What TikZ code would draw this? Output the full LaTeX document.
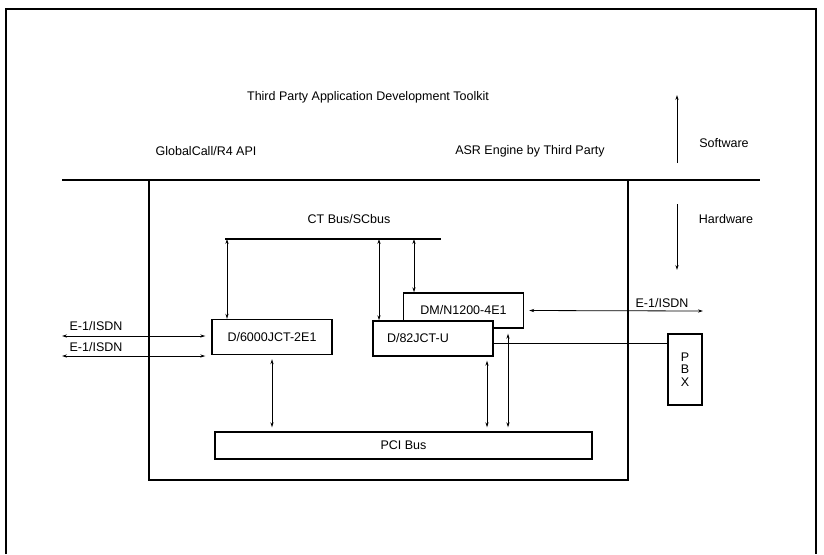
\documentclass[tikz,border=0pt]{standalone}
\usepackage{fontspec}
\setmainfont{Liberation Sans}
\usepackage{xcolor}
\usetikzlibrary{arrows.meta}

\begin{document}
\begin{tikzpicture}[
x=1pt, y=-1pt,
font=\fontsize{12.5}{14}\selectfont,
>={Stealth[length=5pt,width=3.2pt]},
karte/.style={draw, line width=1.4pt, fill=white, inner sep=0pt, minimum height=35pt, minimum width=120pt},
bus/.style={karte, minimum height=27pt, minimum width=377pt},
pfeil/.style={<->, line width=0.8pt},
]
\useasboundingbox (0,0) rectangle (824,554);

\draw[line width=1.6pt] (6,554) -- (6,9) -- (816,9) -- (816,554);

\node (toolkit) at (368,97){Third Party Application Development Toolkit};
\node (gcapi) at (206,151){GlobalCall/R4 API};
\node (asr) at (530,151){ASR Engine by Third Party};
\node (software) at (724,143){Software};
\node (hardware) at (726,219){Hardware};

\coordinate (swa) at (677,163);
\coordinate (swb) at (677,95);
\coordinate (hwa) at (677,204);
\coordinate (hwb) at (677,270);
\draw[->, line width=0.8pt] (swa) -- (swb);
\draw[->, line width=0.8pt] (hwa) -- (hwb);

\coordinate (trennl) at (62,180);
\coordinate (trennr) at (760,180);
\draw[line width=1.6pt] (trennl) -- (trennr);

\draw[line width=1.4pt] (149,180) -- (149,480) -- (628,480) -- (628,180);

\node (ctlabel) at (349,219){CT Bus/SCbus};
\coordinate (ctl) at (225,239);
\coordinate (ctr) at (441,239);
\draw[line width=1.6pt] (ctl) -- (ctr);

\node[karte] (d6000) at (272,337){D/6000JCT-2E1};
\node[karte] (dm) at (463.5,310.5){DM/N1200-4E1};
\node[karte, text width=92pt, align=left, inner xsep=14pt] (d82) at (433,338.5){D/82JCT-U};
\node[karte, minimum width=34pt, minimum height=71pt, align=center, font=\fontsize{12.5}{12.5}\selectfont] (pbx) at (685,369.5){P\\B\\X};
\node[bus] (pci) at (403.5,445.5){PCI Bus};

\coordinate (ct1) at (227,239);
\coordinate (ct2) at (379,239);
\coordinate (ct3) at (414,239);
\draw[pfeil] (ct1) -- (ct1 |- d6000.north);
\draw[pfeil] (ct2) -- (ct2 |- d82.north);
\draw[pfeil] (ct3) -- (ct3 |- dm.north);

\coordinate (e1r) at (703,311);
\draw[pfeil, shorten <=5pt] (dm.east) -- (e1r);
\node (e1rlabel) at (662,303){E-1/ISDN};

\coordinate (e1a) at (62,336);
\coordinate (e1b) at (62,356);
\draw[pfeil, shorten >=6pt] (e1a) -- (e1a -| d6000.west);
\draw[pfeil, shorten >=6pt] (e1b) -- (e1b -| d6000.west);
\node (e1alabel) at (96,326){E-1/ISDN};
\node (e1blabel) at (96,347){E-1/ISDN};

\draw[line width=1pt] ([yshift=-4.5pt]d82.east) -- ([yshift=-4.5pt]d82.east -| pbx.west);

\draw[pfeil, shorten <=4pt, shorten >=4pt] (d6000.south) -- (d6000.south |- pci.north);
\draw[pfeil, shorten <=4pt, shorten >=4pt] ([xshift=54pt]d82.south) -- ([xshift=54pt]d82.south |- pci.north);
\draw[pfeil, shorten <=5pt, shorten >=4pt] ([xshift=44.5pt]dm.south) -- ([xshift=44.5pt]dm.south |- pci.north);

\end{tikzpicture}
\end{document}
